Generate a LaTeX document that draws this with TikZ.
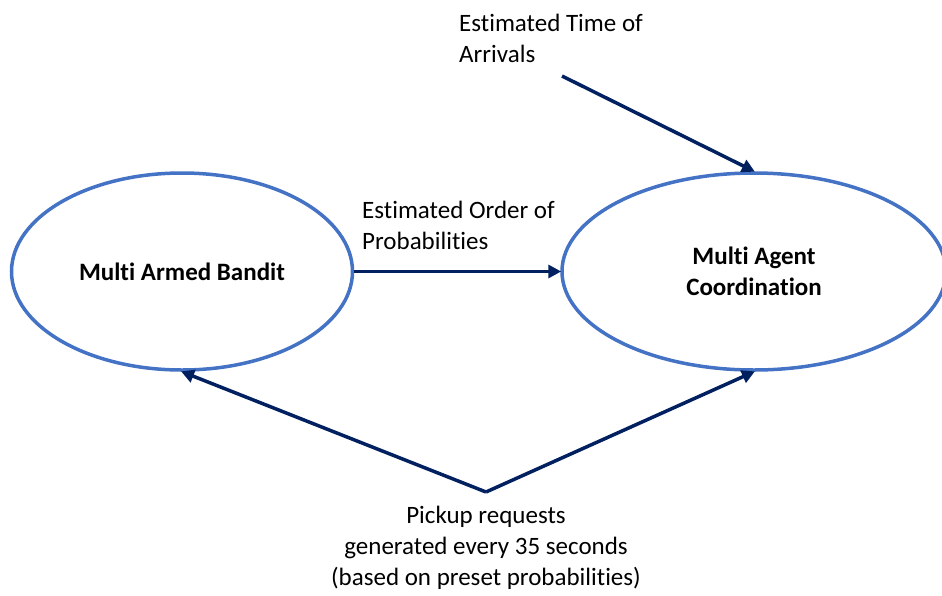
\documentclass[tikz,border=0pt]{standalone}
\usepackage{fontspec}
\setmainfont{Carlito}[Ligatures=NoCommon]
\usetikzlibrary{shapes.geometric,arrows.meta}
\definecolor{ellblue}{RGB}{68,114,196}
\definecolor{arrnavy}{RGB}{0,32,96}
\begin{document}
\begin{tikzpicture}[x=1pt,y=-1pt,
  every node/.style={font=\fontsize{25}{31}\selectfont},
  bubble/.style={ellipse,draw=ellblue,line width=3.5pt,inner sep=0pt,font=\fontsize{25}{31}\selectfont\bfseries,align=center},
  flow/.style={draw=arrnavy,line width=3.5pt,-{Triangle[length=13pt,width=13pt]},shorten >=-1pt},
  lbl/.style={inner sep=0pt,align=left,anchor=west}]
\useasboundingbox (0,0) rectangle (942,595);
\node[bubble,minimum width=341pt,minimum height=197pt] (mab) at (182,271.5) {Multi Armed Bandit};
\node[bubble,minimum width=384pt,minimum height=197pt] (mac) at (754,271.5) {Multi Agent\\Coordination};
\node[lbl] (eta) at (459,38) {Estimated Time of\\Arrivals};
\node[lbl] (eop) at (362,225) {Estimated Order of\\Probabilities};
\node[inner sep=0pt,align=center] (pick) at (486,548) {Pickup requests\\generated every 35 seconds\\(based on preset probabilities)};
\coordinate (etastart) at (562,76);
\coordinate (apex) at (486,492);
\draw[flow] (etastart) -- (mac.north);
\draw[flow] (mab.east) -- (mac.west);
\draw[flow] (apex) -- (mab.south);
\draw[flow] (apex) -- (mac.south);
\end{tikzpicture}
\end{document}
